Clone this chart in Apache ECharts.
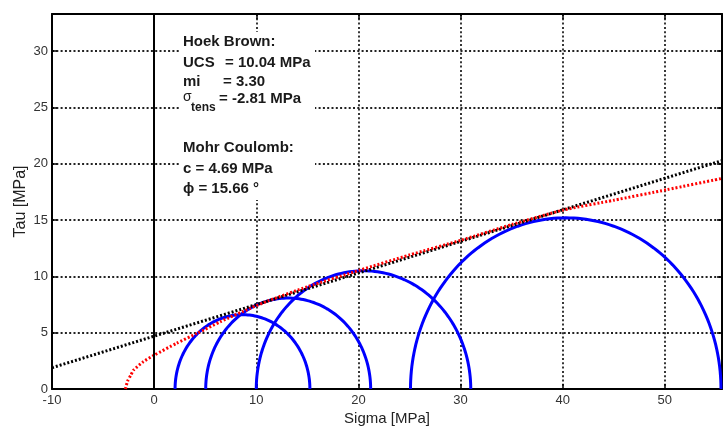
<!DOCTYPE html>
<html>
<head>
<meta charset="utf-8">
<script src="https://cdn.jsdelivr.net/npm/echarts@6/dist/echarts.min.js"></script>
<style>
  html, body { margin: 0; padding: 0; background: #fff; }
  #chart { width: 728px; height: 428px; }
</style>
</head>
<body>
<div id="chart"></div>
<script>
// axis ranges
const xMin = -10, xMax = 55.6, xStep = 10;
const yMin = 0, yMax = 33.3, yStep = 5;

// Mohr circles: [sigma3, sigma1]
const circles = [
  [2.05, 15.25],
  [5.05, 21.2],
  [10.0, 31.0],
  [25.1, 55.5]
];

// Hoek Brown envelope
const hbSigma = [-2.81, -2.6, -2.3, -2.0, -1.05, 0, 2.2, 4.2, 6.5, 9.4, 11.2, 15, 20.2, 25, 30.0, 35, 40.1, 45, 50.2, 55.6];
const hbTau   = [0, 0.7, 1.2, 1.69, 2.43, 3.0, 4.06, 4.94, 5.98, 7.17, 7.84, 9.08, 10.57, 11.9, 13.2, 14.6, 15.9, 16.76, 17.7, 18.7];

// Mohr Coulomb line end points
const mcSigma = [-10, 55.6];
const mcTau = [1.89, 20.28];

const font = '"Liberation Sans", Arial, sans-serif';

const chart = echarts.init(document.getElementById('chart'));

const frameLine = { show: true, onZero: false, lineStyle: { color: '#000', width: 2 } };
const inTick = { show: true, inside: true, length: 5, lineStyle: { color: '#000', width: 1.5 } };
const grid = { show: true, lineStyle: { color: '#222', width: 1.8, type: [2, 2.3] } };

function tickFmt(step) {
  return v => (Math.abs(v / step - Math.round(v / step)) < 1e-6 ? String(v) : '');
}

const textStyle = (txt, x, y, size, weight) => ({
  type: 'text', left: x, top: y - size / 2 - 1, z: 101,
  style: { text: txt, font: (weight || 'bold') + ' ' + size + 'px ' + font, fill: '#1a1a1a' }
});

const option = {
  animation: false,
  backgroundColor: '#fff',
  grid: { left: 52, right: 6, top: 14, bottom: 39, outerBoundsMode: 'none', containLabel: false },
  xAxis: [
    {
      type: 'value', min: xMin, max: xMax, interval: xStep, position: 'bottom',
      name: 'Sigma [MPa]', nameLocation: 'middle', nameGap: 22, nameMoveOverlap: false,
      nameTextStyle: { fontFamily: font, fontSize: 15, color: '#222' },
      axisLine: frameLine, axisTick: inTick, splitLine: grid,
      axisLabel: { fontFamily: font, fontSize: 13, color: '#333', margin: 5, formatter: tickFmt(xStep), showMaxLabel: false }
    },
    {
      type: 'value', min: xMin, max: xMax, interval: xStep, position: 'top',
      axisLine: frameLine, axisTick: inTick, splitLine: { show: false }, axisLabel: { show: false }
    }
  ],
  yAxis: [
    {
      type: 'value', min: yMin, max: yMax, interval: yStep, position: 'left',
      name: 'Tau [MPa]', nameLocation: 'middle', nameGap: 23, nameMoveOverlap: false,
      nameTextStyle: { fontFamily: font, fontSize: 16, color: '#222' },
      axisLine: frameLine, axisTick: inTick, splitLine: grid,
      axisLabel: { fontFamily: font, fontSize: 13, color: '#333', margin: 4, formatter: tickFmt(yStep), showMaxLabel: false }
    },
    {
      type: 'value', min: yMin, max: yMax, interval: yStep, position: 'right',
      axisLine: frameLine, axisTick: inTick, splitLine: { show: false }, axisLabel: { show: false }
    }
  ],
  graphic: [
    { type: 'rect', left: 180, top: 32, z: 100, shape: { width: 135, height: 168 }, style: { fill: '#fff' } },
    textStyle('Hoek Brown:', 183, 43, 15),
    textStyle('UCS', 183, 64, 15),
    textStyle('= 10.04 MPa', 225, 64, 15),
    textStyle('mi', 183, 83, 15),
    textStyle('= 3.30', 223, 83, 15),
    textStyle('σ', 183, 98, 14, 'normal'),
    textStyle('tens', 191, 109, 12),
    textStyle('= -2.81 MPa', 219, 100, 15),
    textStyle('Mohr Coulomb:', 183, 149, 15),
    textStyle('c = 4.69 MPa', 183, 170, 15),
    textStyle('ϕ = 15.66 °', 183, 190, 15)
  ],
  series: [
    {
      name: 'Mohr Coulomb', type: 'line', showSymbol: false,
      data: mcSigma.map((s, i) => [s, mcTau[i]]),
      lineStyle: { color: '#000', width: 3, type: [2, 2] },
      markLine: {
        silent: true, symbol: 'none', label: { show: false },
        lineStyle: { color: '#000', width: 2, type: 'solid' },
        data: [{ xAxis: 0 }]
      }
    },
    {
      name: 'Hoek Brown', type: 'line', showSymbol: false, smooth: 0.2,
      data: hbSigma.map((s, i) => [s, hbTau[i]]),
      lineStyle: { color: '#ff0000', width: 3, type: [2, 2] }
    },
    {
      name: 'Mohr circles', type: 'custom',
      data: circles,
      encode: { x: [0, 1] },
      renderItem: function (params, api) {
        const s3 = api.value(0), s1 = api.value(1);
        const c = (s3 + s1) / 2, r = (s1 - s3) / 2;
        const pts = [];
        for (let i = 0; i <= 120; i++) {
          const t = Math.PI * i / 120;
          pts.push(api.coord([c + r * Math.cos(t), r * Math.sin(t)]));
        }
        return {
          type: 'polyline', shape: { points: pts },
          style: { stroke: '#0000ff', lineWidth: 3, fill: null }
        };
      }
    }
  ]
};

chart.setOption(option);
</script>
</body>
</html>
